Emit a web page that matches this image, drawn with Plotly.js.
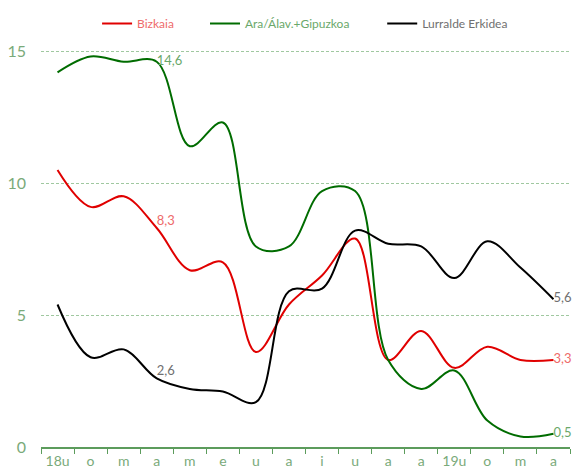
<!DOCTYPE html>
<html>
<head>
<meta charset="utf-8">
<script src="https://cdn.plot.ly/plotly-3.0.1.min.js"></script>
<style>
  html, body { margin: 0; padding: 0; background: #fff; }
  #chart { width: 579px; height: 472px; }
</style>
</head>
<body>
<div id="chart"></div>
<script>
// --- data ---
const months = ["2018-01", "2018-02", "2018-03", "2018-04", "2018-05", "2018-06",
                "2018-07", "2018-08", "2018-09", "2018-10", "2018-11", "2018-12",
                "2019-01", "2019-02", "2019-03", "2019-04"];
const monthLabels = ["18u", "o", "m", "a", "m", "e", "u", "a", "i", "u", "a", "a",
                     "19u", "o", "m", "a"];

const bizkaia = [10.5, 9.1, 9.5, 8.3, 6.7, 7.0, 3.6, 5.4, 6.5, 7.9, 3.3, 4.4, 3.0, 3.8, 3.3, 3.3];
const araGipuzkoa = [14.2, 14.8, 14.6, 14.6, 11.4, 12.3, 7.6, 7.6, 9.7, 9.7, 3.3, 2.2, 2.9, 1.0, 0.4, 0.5];
const erkidea = [5.4, 3.4, 3.7, 2.6, 2.2, 2.1, 1.7, 5.9, 6.0, 8.2, 7.7, 7.6, 6.4, 7.8, 6.8, 5.6];

// points that get a value label (April 2018 and the last month)
const labelled = [3, 15];

// --- helpers ---
function fmt(v) {
    return v.toFixed(1).replace(".", ",");
}

function labelsFor(values) {
    return values.map((v, i) => (labelled.includes(i) ? fmt(v) : ""));
}

function makeTrace(name, values, lineColor, textColor, midPos, legendId) {
    return {
        x: months,
        y: values,
        name: '<span style="color:' + textColor + '">' + name + "</span>",
        legend: legendId,
        type: "scatter",
        mode: "lines+text",
        line: { color: lineColor, width: 2, shape: "spline", smoothing: 1 },
        text: labelsFor(values),
        textposition: values.map((v, i) => (i === 3 ? midPos : "middle right")),
        textfont: { color: textColor, size: 13 },
        cliponaxis: false,
        hoverinfo: "x+y",
    };
}

const traces = [
    makeTrace("Bizkaia", bizkaia, "#e00000", "#ee6b6b", "top right", "legend"),
    makeTrace("Ara/Álav.+Gipuzkoa", araGipuzkoa, "#006c00", "#6aa86a", "middle right", "legend2"),
    makeTrace("Lurralde Erkidea", erkidea, "#000000", "#707070", "top right", "legend3"),
];

const axisGreen = "#5c9c5c";

// one legend per series so each entry sits where the original put it
function legendAt(x) {
    return {
        orientation: "h",
        x: x,
        xanchor: "left",
        y: 1.0,
        yanchor: "bottom",
        font: { size: 12 },
        itemwidth: 30,
        bgcolor: "rgba(0,0,0,0)",
    };
}

const layout = {
    width: 579,
    height: 472,
    font: { family: "Lato, 'Open Sans', sans-serif", color: "#7aaa7a" },
    margin: { l: 41, r: 9, t: 38, b: 25 },
    paper_bgcolor: "#fff",
    plot_bgcolor: "#fff",
    showlegend: true,
    legend: legendAt(0.106),
    legend2: legendAt(0.310),
    legend3: legendAt(0.645),
    xaxis: {
        type: "category",
        tickmode: "array",
        tickvals: months,
        ticktext: monthLabels,
        tickson: "boundaries",
        ticks: "outside",
        ticklen: 5,
        tickcolor: axisGreen,
        showline: true,
        linecolor: axisGreen,
        linewidth: 1.5,
        showgrid: false,
        tickfont: { size: 14, color: "#7aaa7a" },
        range: [-0.5, 15.5],
        fixedrange: true,
    },
    yaxis: {
        range: [0, 15.5],
        tickvals: [0, 5, 10, 15],
        showgrid: true,
        gridcolor: "#a0c8a0",
        griddash: "3px,2px",
        gridwidth: 1,
        zeroline: false,
        showline: false,
        ticks: "",
        ticklabelstandoff: 14,
        tickfont: { size: 16, color: "#7aaa7a" },
        fixedrange: true,
    },
};

Plotly.newPlot("chart", traces, layout, { displayModeBar: false, responsive: false });
</script>
</body>
</html>
